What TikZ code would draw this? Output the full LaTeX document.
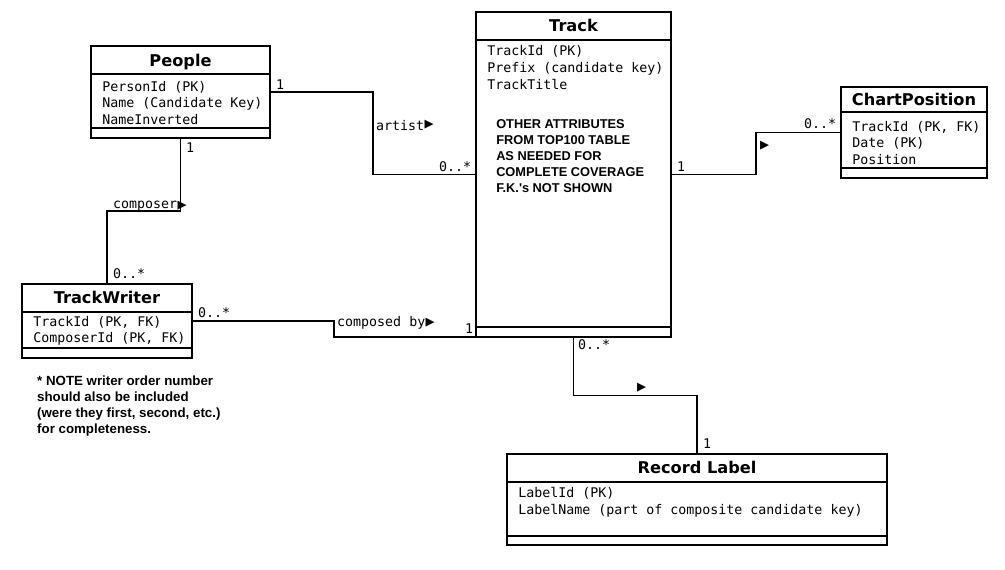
\documentclass[tikz,border=0pt]{standalone}
\usepackage{fontspec}
\setmonofont{DejaVu Sans Mono}
\newfontfamily\titlefont{DejaVu Sans}
\newfontfamily\notefont{Liberation Sans}
\usepackage{tikz}
\usetikzlibrary{
  calc
  , positioning
}

\tikzset{
  entity/.style={draw, rectangle, line width=1.9pt, inner sep=0pt},
  title/.style={font=\titlefont\bfseries\fontsize{16.2}{19}\selectfont, anchor=base, inner sep=0pt},
  attrs/.style={font=\ttfamily\fontsize{13.3}{16.5}\selectfont, align=left, anchor=north west, inner sep=0pt},
  remark/.style={font=\notefont\bfseries\fontsize{12.8}{16}\selectfont, align=left, anchor=north west, inner sep=0pt},
  mult/.style={font=\ttfamily\fontsize{13.3}{16}\selectfont, anchor=base west, inner sep=0pt},
  arrowmark/.style={font=\ttfamily\fontsize{15}{16}\selectfont, anchor=west, inner sep=0pt},
  link/.style={line width=1.9pt},
}

% title line and bottom line of an entity box
\newcommand{\compartments}[3]{
  \draw[link] ($(#1.north west)+(0,#2)$) -- ($(#1.north east)+(0,#2)$);
  \draw[link] ($(#1.north west)+(0,#3)$) -- ($(#1.north east)+(0,#3)$);
}

\begin{document}
\begin{tikzpicture}[x=1pt, y=-1pt]
  \path[fill=white, use as bounding box] (0,0) rectangle (1005,570);

  % entities
  \node[entity, minimum width=179pt, minimum height=92pt] (people) at (180.5, 92) {};
  \node[entity, minimum width=195pt, minimum height=325pt] (track) at (573.5, 174.5) {};
  \node[entity, minimum width=146pt, minimum height=91pt] (chart) at (914, 132.5) {};
  \node[entity, minimum width=170pt, minimum height=74pt] (writer) at (107, 321) {};
  \node[entity, minimum width=380pt, minimum height=91pt] (label) at (697, 499.5) {};

  \compartments{people}{29}{83}
  \compartments{track}{29}{316}
  \compartments{chart}{26}{82}
  \compartments{writer}{29}{65}
  \compartments{label}{29}{83}

  \node[title] (people-t) at ($(people.north)+(0,21)$) {People};
  \node[title] (track-t) at ($(track.north)+(0,20.5)$) {Track};
  \node[title] (chart-t) at ($(chart.north)+(0,19.5)$) {ChartPosition};
  \node[title] (writer-t) at ($(writer.north)+(0,20.5)$) {TrackWriter};
  \node[title] (label-t) at ($(label.north)+(0,20.5)$) {Record Label};

  \node[attrs] (people-a) at ($(people.north west)+(12,36)$) {PersonId (PK)\\Name (Candidate Key)\\NameInverted};
  \node[attrs, font=\ttfamily\fontsize{13.3}{17}\selectfont] (track-a) at ($(track.north west)+(12,34.5)$) {TrackId (PK)\\Prefix (candidate key)\\TrackTitle};
  \node[attrs] (chart-a) at ($(chart.north west)+(12,35)$) {TrackId (PK, FK)\\Date (PK)\\Position};
  \node[attrs] (writer-a) at ($(writer.north west)+(12,33)$) {TrackId (PK, FK)\\ComposerId (PK, FK)};
  \node[attrs, font=\ttfamily\fontsize{13.3}{17}\selectfont] (label-a) at ($(label.north west)+(12,34.5)$) {LabelId (PK)\\LabelName (part of composite candidate key)};

  \node[remark] (track-note) at ($(track.north west)+(21,108)$) {OTHER ATTRIBUTES\\FROM TOP100 TABLE\\AS NEEDED FOR\\COMPLETE COVERAGE\\F.K.'s NOT SHOWN};
  \node[remark, font=\notefont\bfseries\fontsize{13.3}{16}\selectfont] (writer-note) at (37, 375.5) {* NOTE writer order number\\should also be included\\(were they first, second, etc.)\\for completeness.};

  % associations
  \draw[link] (people.east) -| ($(people.east)!.5!(track.west)$) |- (track.west);
  \draw[link] (people.south) |- ($(people.south)!.5!(writer.north)$) -| (writer.north);
  \draw[link] (writer.east) -| ($(writer.east)!.5!(track.south west)$) |- ($(track.south west)+(0,-1)$);
  \draw[link] (track.east) -| ($(track.east)!.5!(chart.west)$) |- (chart.west);
  \draw[link] (track.south) |- ($(track.south)!.5!(label.north)$) -| (label.north);

  \node[mult] (artist-1) at (276, 89) {1};
  \node[mult] (artist) at (376, 130) {artist};
  \node[arrowmark] (artist-dir) at (artist.east) {▶};
  \node[mult] (artist-n) at (439, 171) {0..*};
  \node[mult] (composer-1) at (186, 152) {1};
  \node[mult] (composer) at (113, 208) {composer};
  \node[arrowmark] (composer-dir) at (composer.east) {▶};
  \node[mult] (composer-n) at (113, 278) {0..*};
  \node[mult] (composed-n) at (198, 317) {0..*};
  \node[mult] (composed) at (337, 326) {composed by};
  \node[arrowmark] (composed-dir) at (composed.east) {▶};
  \node[mult] (composed-1) at (465, 333) {1};
  \node[mult] (chart-1) at (677, 171) {1};
  \node[mult] (chart-n) at (804, 128) {0..*};
  \node[arrowmark] (chart-dir) at (760, 146) {▶};
  \node[mult] (label-n) at (578, 349) {0..*};
  \node[arrowmark] (label-dir) at (637, 388) {▶};
  \node[mult] (label-1) at (703, 448) {1};
\end{tikzpicture}
\end{document}
